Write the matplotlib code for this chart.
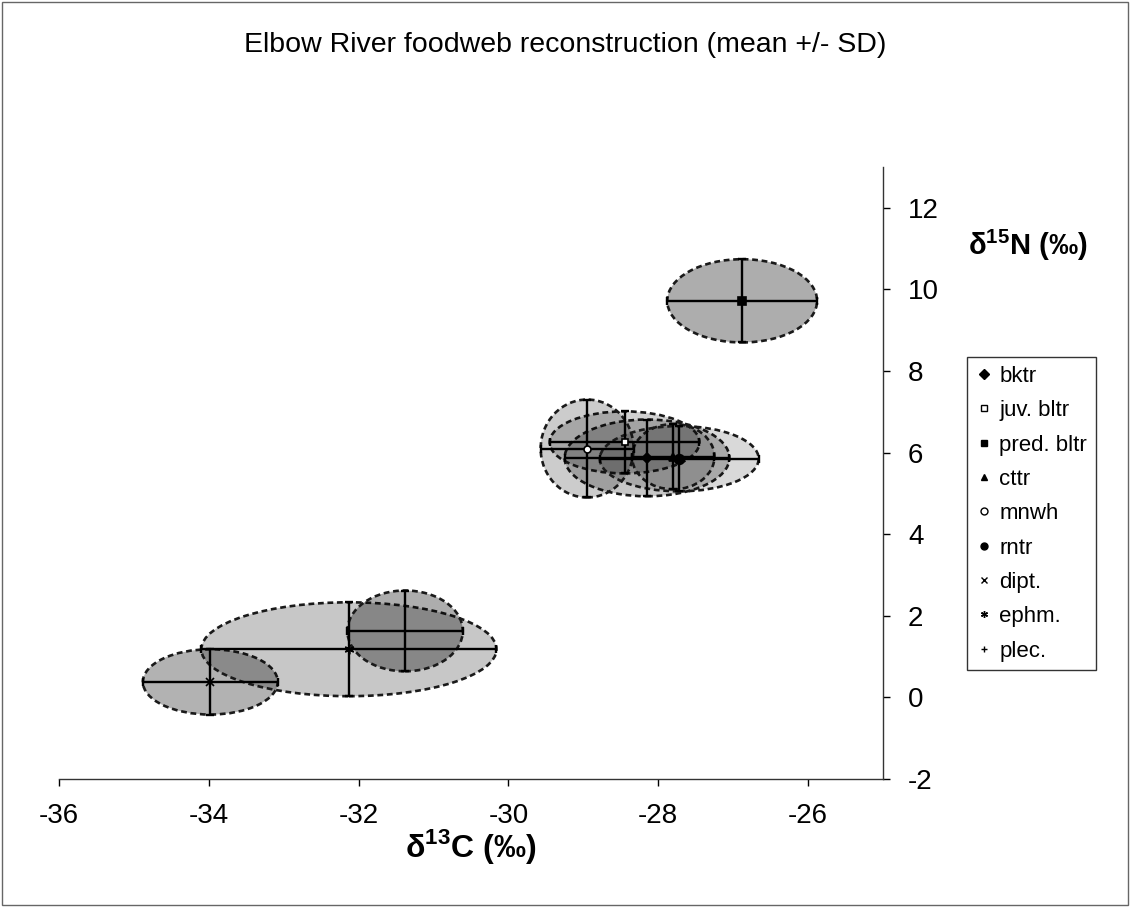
import matplotlib
matplotlib.use("Agg")
import matplotlib.pyplot as plt
from matplotlib.patches import Ellipse, Rectangle
from matplotlib.lines import Line2D

plt.rcParams['font.family'] = ['Liberation Sans', 'DejaVu Sans']
plt.rcParams['mathtext.fontset'] = 'custom'
plt.rcParams['mathtext.rm'] = 'Liberation Sans'
plt.rcParams['mathtext.bf'] = 'Liberation Sans:bold'

# ---- data ----
groups = ['bktr', 'juv. bltr', 'pred. bltr', 'cttr', 'mnwh', 'rntr', 'dipt.', 'ephm.', 'plec.']
d13C_mean = [-28.15, -28.45, -26.88, -27.80, -28.95, -27.72, -33.98, -32.13, -31.38]
d13C_sd = [1.10, 1.00, 1.00, 0.55, 0.62, 1.06, 0.90, 1.97, 0.77]
d15N_mean = [5.87, 6.25, 9.72, 5.90, 6.10, 5.85, 0.38, 1.18, 1.63]
d15N_sd = [0.94, 0.76, 1.02, 0.80, 1.20, 0.80, 0.80, 1.15, 0.99]

x_ticks = [-36, -34, -32, -30, -28, -26]
y_ticks = [-2, 0, 2, 4, 6, 8, 10, 12]

# ---- styles ----
markers = ['D', 's', 's', '^', 'o', 'o', 'x', (6, 2, 0), '+']
marker_face = ['black', 'white', 'black', 'black', 'white', 'black', 'black', 'black', 'black']
marker_size = [5, 5, 6, 6, 5, 7, 6, 7, 7]
fill_alpha = [0.22, 0.18, 0.32, 0.15, 0.20, 0.15, 0.30, 0.22, 0.32]

W, H = 1130, 907
fig = plt.figure(figsize=(W / 100, H / 100), dpi=100)
ax = fig.add_axes([59 / W, 1 - 779 / H, (883 - 59) / W, (779 - 167) / H])

for i in range(len(groups)):
    e = Ellipse((d13C_mean[i], d15N_mean[i]), 2 * d13C_sd[i], 2 * d15N_sd[i],
                facecolor=(0, 0, 0, fill_alpha[i]), edgecolor='#1a1a1a',
                linestyle=(0, (2.2, 1.4)), linewidth=1.9, zorder=2)
    ax.add_patch(e)

for i in range(len(groups)):
    ax.errorbar(d13C_mean[i], d15N_mean[i], xerr=d13C_sd[i], yerr=d15N_sd[i],
                fmt='none', ecolor='black', elinewidth=1.7, capsize=3, capthick=1.7, zorder=3)
    ax.plot(d13C_mean[i], d15N_mean[i], linestyle='none', marker=markers[i],
            markersize=marker_size[i], markerfacecolor=marker_face[i],
            markeredgecolor='black', markeredgewidth=1.2, zorder=4)

ax.set_xlim(-36, -25)
ax.set_ylim(-2, 13)
ax.set_xticks(x_ticks)
ax.set_yticks(y_ticks)
ax.set_xticklabels([str(v) for v in x_ticks])
ax.set_yticklabels([str(v) for v in y_ticks])
ax.yaxis.tick_right()
ax.spines['left'].set_visible(False)
ax.spines['top'].set_visible(False)
for s in ['bottom', 'right']:
    ax.spines[s].set_linewidth(1.0)
    ax.spines[s].set_color('#333333')
ax.tick_params(axis='x', direction='out', length=5, width=1, pad=12, labelsize=20)
ax.tick_params(axis='y', direction='out', length=5, width=1, pad=13, labelsize=20)
ax.set_facecolor('none')

fig.text(0.5, 1 - 45 / H, 'Elbow River foodweb reconstruction (mean +/- SD)',
         ha='center', va='center', fontsize=20.5)
fig.text(471 / W, 1 - 846 / H, 'δ$^{\\mathbf{13}}$C (‰)', ha='center', va='center',
         fontsize=23, fontweight='bold')
fig.text(1028 / W, 1 - 245 / H, 'δ$^{\\mathbf{15}}$N (‰)', ha='center', va='center',
         fontsize=21, fontweight='bold')

handles = [Line2D([], [], linestyle='none', marker=markers[i], markersize=5,
                  markerfacecolor=marker_face[i], markeredgecolor='black',
                  markeredgewidth=1.0) for i in range(len(groups))]
leg = fig.legend(handles, groups, loc='upper left', bbox_to_anchor=(967 / W, 1 - 357 / H),
                 bbox_transform=fig.transFigure, fontsize=16, frameon=True, fancybox=False,
                 edgecolor='black', handlelength=0.7, handletextpad=0.35,
                 labelspacing=0.6, borderpad=0.4, borderaxespad=0)
leg.get_frame().set_linewidth(1.0)

fig.patches.append(Rectangle((0.002, 0.002), 0.996, 0.996, transform=fig.transFigure,
                             fill=False, edgecolor='#666666', linewidth=1.0))

fig.savefig('out.png', dpi=100)
